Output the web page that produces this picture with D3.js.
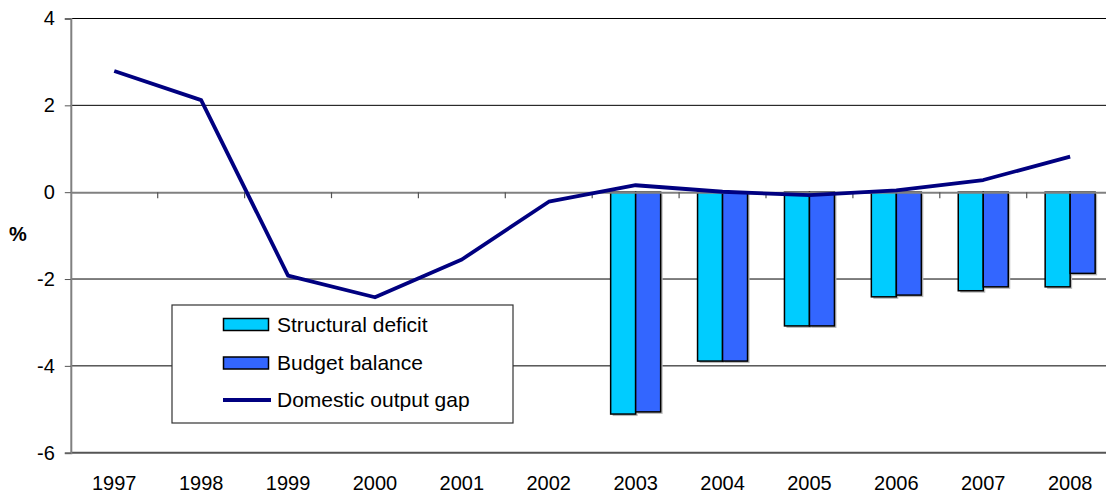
<!DOCTYPE html>
<html>
<head>
<meta charset="utf-8">
<script src="https://cdn.jsdelivr.net/npm/d3@7"></script>
<style>
  html, body { margin: 0; padding: 0; background: #fff; }
  svg { display: block; font-family: "Liberation Sans", Arial, sans-serif; }
</style>
</head>
<body>
<svg id="chart" width="1106" height="496"></svg>
<script>
// Fiscal indicators, % of GDP
const years = ["1997","1998","1999","2000","2001","2002","2003","2004","2005","2006","2007","2008"];
const structuralDeficit = [null, null, null, null, null, null, -5.11, -3.89, -3.08, -2.41, -2.27, -2.18];
const budgetBalance     = [null, null, null, null, null, null, -5.06, -3.89, -3.08, -2.37, -2.18, -1.87];
const outputGap         = [2.79, 2.12, -1.92, -2.42, -1.55, -0.22, 0.16, 0.01, -0.07, 0.04, 0.28, 0.82];
const yTicks = [-6, -4, -2, 0, 2, 4];
const legendLabels = ["Structural deficit", "Budget balance", "Domestic output gap"];

const colors = { structural: "#00CCFF", budget: "#3366FF", line: "#000080" };

const svg = d3.select("#chart");
const plotLeft = 70.8, plotRight = 1113.6, plotTop = 18.5, plotBottom = 452.7;

const x = d3.scaleBand().domain(years).range([plotLeft, plotRight]).padding(0);
const y = d3.scaleLinear().domain([-6, 4]).range([plotBottom, plotTop]);
const barW = 25;

// Horizontal gridlines
svg.append("g").selectAll("line")
  .data(yTicks.filter(v => v !== 0 && v !== -6))
  .join("line")
  .attr("x1", plotLeft).attr("x2", plotRight)
  .attr("y1", d => y(d)).attr("y2", d => y(d))
  .attr("stroke", "#000").attr("stroke-width", 1);

// Bottom frame line
svg.append("line")
  .attr("x1", plotLeft).attr("x2", plotRight)
  .attr("y1", y(-6)).attr("y2", y(-6))
  .attr("stroke", "#555").attr("stroke-width", 2);

// Y axis
const yAxis = d3.axisLeft(y).tickValues(yTicks).tickSize(6).tickPadding(10).tickFormat(d3.format("d"));
const gy = svg.append("g").attr("transform", `translate(${plotLeft},0)`).call(yAxis);
gy.select(".domain").attr("stroke", "#808080").attr("stroke-width", 2);
gy.selectAll(".tick line").attr("stroke", "#555").attr("stroke-width", 1);
gy.selectAll(".tick text")
  .attr("font-size", 20).attr("fill", "#000")
  .attr("font-family", "Liberation Sans, Arial, sans-serif")
  .text(d => d < 0 ? "-" + Math.abs(d) : d);

// Y axis title
svg.append("text")
  .attr("x", 18).attr("y", 241)
  .attr("text-anchor", "middle")
  .attr("font-size", 20).attr("font-weight", "bold")
  .text("%");

// Bars: structural deficit and budget balance
const bars = svg.append("g");
const barData = [];
years.forEach((yr, i) => {
  if (structuralDeficit[i] != null) barData.push({ yr, v: structuralDeficit[i], off: -barW, c: colors.structural });
  if (budgetBalance[i] != null) barData.push({ yr, v: budgetBalance[i], off: 0, c: colors.budget });
});
const cx = yr => x(yr) + x.bandwidth() / 2;

// soft drop shadow under each bar
bars.selectAll("rect.shadow").data(barData).join("rect")
  .attr("class", "shadow")
  .attr("x", d => cx(d.yr) + d.off + 2)
  .attr("y", d => Math.min(y(0), y(d.v)) + 2)
  .attr("width", barW)
  .attr("height", d => Math.abs(y(d.v) - y(0)))
  .attr("fill", "#b8b8b8");

bars.selectAll("rect.bar").data(barData).join("rect")
  .attr("class", "bar")
  .attr("x", d => cx(d.yr) + d.off)
  .attr("y", d => Math.min(y(0), y(d.v)))
  .attr("width", barW)
  .attr("height", d => Math.abs(y(d.v) - y(0)))
  .attr("fill", d => d.c)
  .attr("stroke", "#000").attr("stroke-width", 1.5);

// Category axis crossing at zero
const xAxis = d3.axisBottom(x).tickSize(0).tickFormat("");
const gx = svg.append("g").attr("transform", `translate(0,${y(0)})`).call(xAxis);
gx.select(".domain").attr("stroke", "#808080").attr("stroke-width", 2);
// tick marks at category boundaries
svg.append("g").selectAll("line")
  .data(years.slice(1))
  .join("line")
  .attr("x1", d => x(d)).attr("x2", d => x(d))
  .attr("y1", y(0)).attr("y2", y(0) + 6)
  .attr("stroke", "#555").attr("stroke-width", 1.2);

// Category labels along the bottom
svg.append("g").selectAll("text")
  .data(years)
  .join("text")
  .attr("x", d => cx(d))
  .attr("y", 490)
  .attr("text-anchor", "middle")
  .attr("font-size", 20)
  .text(d => d);

// Output gap line
const line = d3.line()
  .x((d, i) => cx(years[i]))
  .y(d => y(d));
svg.append("path")
  .datum(outputGap)
  .attr("d", line)
  .attr("fill", "none")
  .attr("stroke", colors.line)
  .attr("stroke-width", 3.8)
  .attr("stroke-linejoin", "round");

// Legend
const lg = svg.append("g");
lg.append("rect")
  .attr("x", 172).attr("y", 305).attr("width", 341).attr("height", 118)
  .attr("fill", "#fff").attr("stroke", "#333").attr("stroke-width", 1.2);
const rowY = [324.5, 363, 400];
[colors.structural, colors.budget].forEach((c, i) => {
  lg.append("rect")
    .attr("x", 223.5).attr("y", rowY[i] - 6).attr("width", 45).attr("height", 12)
    .attr("fill", c).attr("stroke", "#000").attr("stroke-width", 1.5);
});
lg.append("line")
  .attr("x1", 223).attr("x2", 271)
  .attr("y1", rowY[2]).attr("y2", rowY[2])
  .attr("stroke", colors.line).attr("stroke-width", 3.8);
lg.selectAll("text.leg").data(legendLabels).join("text")
  .attr("class", "leg")
  .attr("x", 277)
  .attr("y", (d, i) => rowY[i] + 7)
  .attr("font-size", 21)
  .text(d => d);
</script>
</body>
</html>
